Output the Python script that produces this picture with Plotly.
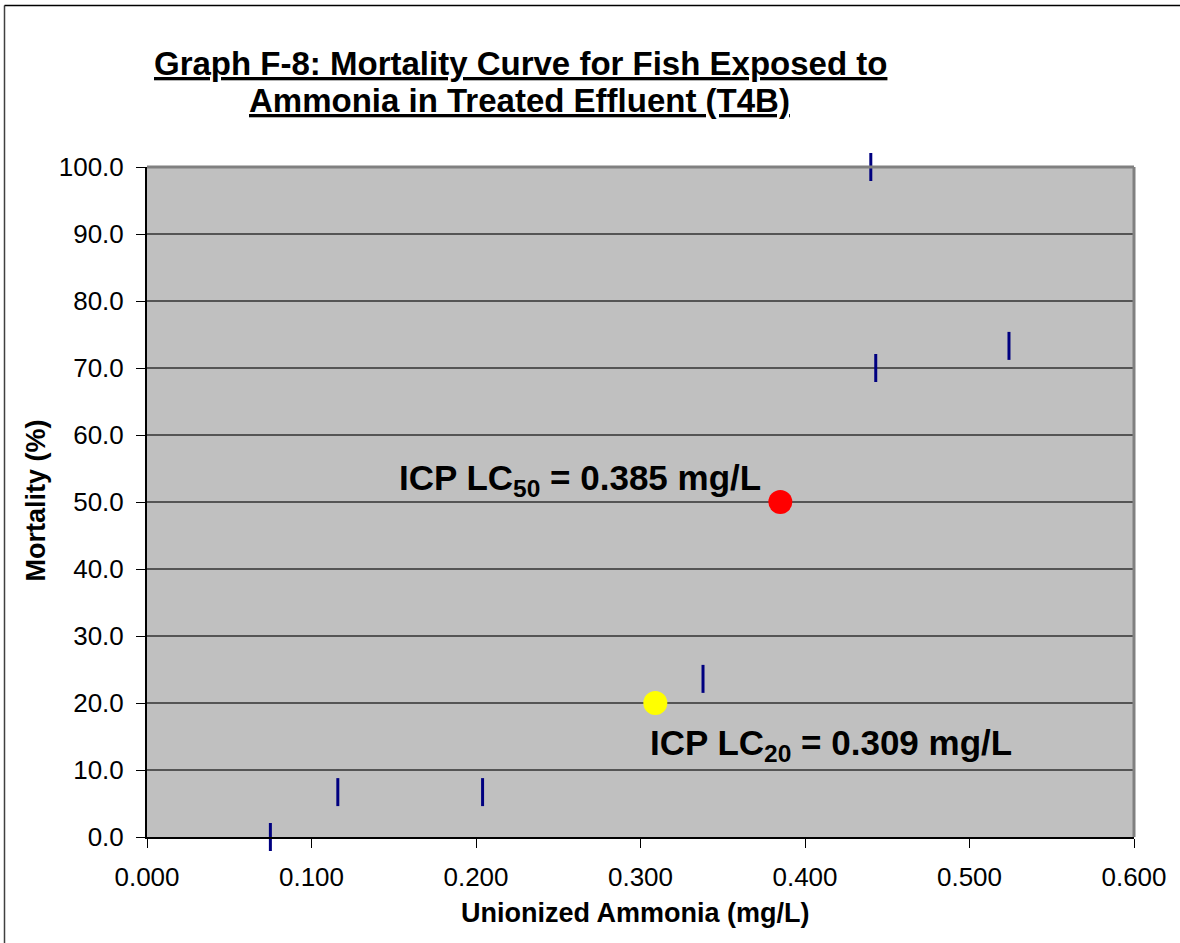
import plotly.graph_objects as go

# Observed mortality data
ammonia = [0.075, 0.116, 0.204, 0.338, 0.440, 0.443, 0.524]
mortality = [0.0, 6.7, 6.7, 23.6, 100.0, 70.0, 73.3]

# ICP estimates
lc50_x, lc50_y = [0.385], [50.0]
lc20_x, lc20_y = [0.309], [20.0]

x_ticks = [0.0, 0.1, 0.2, 0.3, 0.4, 0.5, 0.6]
y_ticks = [0, 10, 20, 30, 40, 50, 60, 70, 80, 90, 100]

title_lines = ["Graph F-8: Mortality Curve for Fish Exposed to",
               "Ammonia in Treated Effluent (T4B)"]

W, H = 1180, 943
L, R, T, B = 147, 46, 166.5, 106.3
pw, ph = W - L - R, H - T - B

FONT = "Liberation Sans, Arial, sans-serif"

fig = go.Figure()
fig.add_trace(go.Scatter(
    x=ammonia, y=mortality, mode="markers",
    marker=dict(symbol="line-ns", size=20, color="#000080",
                line=dict(color="#000080", width=3)),
    showlegend=False, cliponaxis=False))
fig.add_trace(go.Scatter(
    x=lc50_x, y=lc50_y, mode="markers",
    marker=dict(symbol="circle", size=24, color="#FF0000", line=dict(width=0)),
    showlegend=False, cliponaxis=False))
fig.add_trace(go.Scatter(
    x=lc20_x, y=lc20_y, mode="markers",
    marker=dict(symbol="circle", size=24, color="#FFFF00", line=dict(width=0)),
    showlegend=False, cliponaxis=False))

def px(xp):
    return (xp - L) / pw

def py(yp):
    return 1 - (yp - T) / ph

shapes = [
    # plot area border top/right (gray)
    dict(type="line", xref="paper", yref="paper", x0=0, x1=1, y0=1, y1=1,
         line=dict(color="#808080", width=3)),
    dict(type="line", xref="paper", yref="paper", x0=1, x1=1, y0=0, y1=1,
         line=dict(color="#808080", width=3)),
    # outer chart border (left & top)
    dict(type="line", xref="paper", yref="paper", x0=px(4.5), x1=px(4.5), y0=py(943), y1=py(5),
         line=dict(color="#404040", width=1.5)),
    dict(type="line", xref="paper", yref="paper", x0=px(4.5), x1=px(1180), y0=py(5), y1=py(5),
         line=dict(color="#000000", width=1.5)),
]

annotations = [
    dict(text="<b><u>%s</u></b>" % title_lines[0], x=px(520.5), y=py(63), xref="paper", yref="paper",
         xanchor="center", yanchor="middle", showarrow=False,
         font=dict(family=FONT, size=33, color="#000000")),
    dict(text="<b><u>%s</u></b>" % title_lines[1], x=px(519), y=py(100), xref="paper", yref="paper",
         xanchor="center", yanchor="middle", showarrow=False,
         font=dict(family=FONT, size=33, color="#000000")),
    dict(text="<b>ICP LC<sub>50</sub> = 0.385 mg/L</b>", x=0.385, y=50, xref="x", yref="y",
         xanchor="right", yanchor="middle", xshift=-17, yshift=22, showarrow=False,
         font=dict(family=FONT, size=35, color="#000000")),
    dict(text="<b>ICP LC<sub>20</sub> = 0.309 mg/L</b>", x=0.309, y=20, xref="x", yref="y",
         xanchor="left", yanchor="middle", xshift=-7, yshift=-42, showarrow=False,
         font=dict(family=FONT, size=35, color="#000000")),
    dict(text="<b>Mortality (%)</b>", x=px(36), y=py(500), xref="paper", yref="paper",
         textangle=-90, showarrow=False, xanchor="center", yanchor="middle",
         font=dict(family=FONT, size=27, color="#000000")),
    dict(text="<b>Unionized Ammonia (mg/L)</b>", x=px(635), y=py(913), xref="paper", yref="paper",
         showarrow=False, xanchor="center", yanchor="middle",
         font=dict(family=FONT, size=27, color="#000000")),
]

fig.update_layout(
    width=W, height=H,
    margin=dict(l=L, r=R, t=T, b=B),
    paper_bgcolor="#FFFFFF",
    plot_bgcolor="#C0C0C0",
    font=dict(family=FONT, color="#000000"),
    shapes=shapes,
    annotations=annotations,
    xaxis=dict(range=[0, 0.6], tickvals=x_ticks, tickformat=".3f",
               showgrid=False, zeroline=False, showline=True, linecolor="#000000", linewidth=2,
               ticks="outside", ticklen=9, tickwidth=1, tickcolor="#000000",
               ticklabelstandoff=7,
               tickfont=dict(family=FONT, size=26, color="#000000")),
    yaxis=dict(range=[0, 100], tickvals=y_ticks, tickformat=".1f",
               showgrid=True, gridcolor="#555555", gridwidth=1.5, zeroline=False,
               showline=True, linecolor="#000000", linewidth=2,
               ticks="outside", ticklen=9, tickwidth=1, tickcolor="#000000",
               ticklabelstandoff=7,
               tickfont=dict(family=FONT, size=26, color="#000000")),
)

fig.write_html("out.html", config={"displayModeBar": False},
               post_script="document.body.style.margin='0';document.body.style.overflow='hidden';")
